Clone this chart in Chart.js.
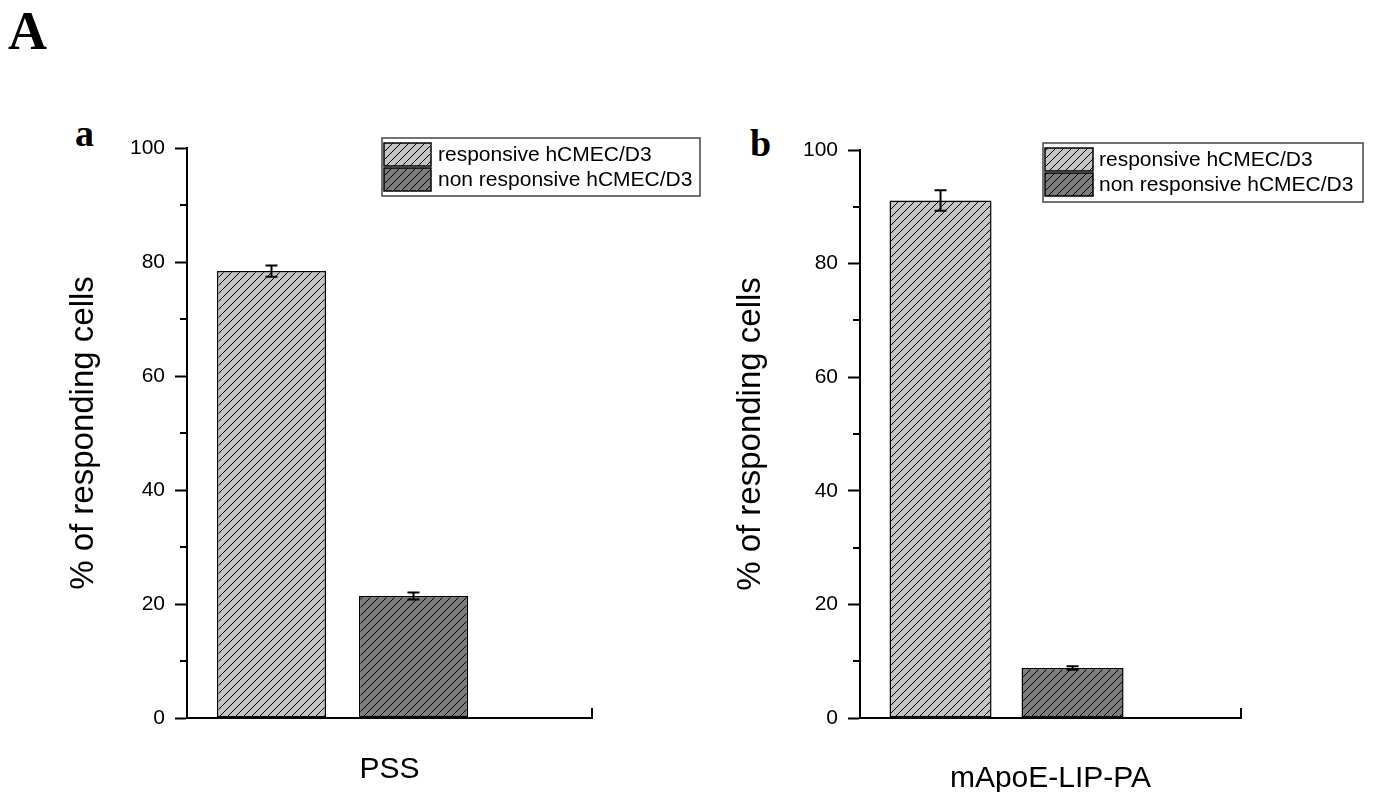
<!DOCTYPE html>
<html>
<head>
<meta charset="utf-8">
<script src="https://cdn.jsdelivr.net/npm/chart.js@4.4.1/dist/chart.umd.min.js"></script>
<style>
  html, body { margin: 0; padding: 0; background: #fff; width: 1376px; height: 792px; overflow: hidden; }
  .panel { position: absolute; top: 0; }
  #panel-a { left: 0; }
  #panel-b { left: 700px; }
  .tag { position: absolute; font-family: "Liberation Serif", "Times New Roman", serif; font-weight: bold; color: #000; line-height: 1; }
</style>
</head>
<body>
<div class="tag" style="left:8px; top:4px; font-size:54px;">A</div>
<div class="tag" style="left:75px; top:114px; font-size:38px;">a</div>
<div class="tag" style="left:750px; top:124px; font-size:38px;">b</div>
<div class="panel" id="panel-a"><canvas id="chart-a" width="710" height="800"></canvas></div>
<div class="panel" id="panel-b"><canvas id="chart-b" width="676" height="800"></canvas></div>

<script>
// ---------------- DATA ----------------
const seriesNames = ["responsive hCMEC/D3", "non responsive hCMEC/D3"];
const groupLabels = ["PSS", "mApoE-LIP-PA"];
const pssMeans = [78.4, 21.4];
const pssErrors = [1.0, 0.6];
const apoMeans = [91.1, 8.8];
const apoErrors = [1.8, 0.3];
const yTickValues = [0, 20, 40, 60, 80, 100];
const yMinorValues = [10, 30, 50, 70, 90];
const yTitle = "% of responding cells";

// ---------------- STYLE ----------------
const seriesFill = ["#c4c4c4", "#7c7c7c"];
const sansFont = "'Liberation Sans', Arial, sans-serif";
Chart.defaults.font.family = sansFont;
Chart.defaults.color = "#000";

// diagonal hatch like the Origin "/" fill
function hatch(fill) {
  const size = 8;
  const c = document.createElement("canvas");
  c.width = size;
  c.height = size;
  const g = c.getContext("2d");
  g.fillStyle = fill;
  g.fillRect(0, 0, size, size);
  g.strokeStyle = "#000";
  g.lineWidth = 1;
  g.beginPath();
  g.moveTo(0, size); g.lineTo(size, 0);
  g.moveTo(-size / 2, size / 2); g.lineTo(size / 2, -size / 2);
  g.moveTo(size / 2, size * 1.5); g.lineTo(size * 1.5, size / 2);
  g.stroke();
  return g.createPattern(c, "repeat");
}
const patterns = seriesFill.map(hatch);

// ---------------- PLUGINS ----------------
const errorBars = {
  id: "errorBars",
  afterDatasetsDraw(chart) {
    const ctx = chart.ctx;
    const y = chart.scales.y;
    ctx.save();
    ctx.strokeStyle = "#000";
    ctx.lineWidth = 2;
    chart.data.datasets.forEach((ds, i) => {
      const meta = chart.getDatasetMeta(i);
      meta.data.forEach((bar, j) => {
        const v = ds.data[j].y;
        const e = ds.errorBars[j];
        const top = y.getPixelForValue(v + e);
        const bot = y.getPixelForValue(v - e);
        ctx.beginPath();
        ctx.moveTo(bar.x, top); ctx.lineTo(bar.x, bot);
        ctx.moveTo(bar.x - 6, top); ctx.lineTo(bar.x + 6, top);
        ctx.moveTo(bar.x - 6, bot); ctx.lineTo(bar.x + 6, bot);
        ctx.stroke();
      });
    });
    ctx.restore();
  },
};

// minor y ticks + the small end tick on the x axis
const axisExtras = {
  id: "axisExtras",
  afterDraw(chart) {
    const ctx = chart.ctx;
    const y = chart.scales.y;
    const area = chart.chartArea;
    ctx.save();
    ctx.strokeStyle = "#000";
    ctx.lineWidth = 2;
    ctx.beginPath();
    yMinorValues.forEach((v) => {
      const py = Math.round(y.getPixelForValue(v));
      ctx.moveTo(area.left - 7, py);
      ctx.lineTo(area.left, py);
    });
    ctx.moveTo(area.right, area.bottom + 1);
    ctx.lineTo(area.right, area.bottom - 10);
    ctx.stroke();
    ctx.restore();
  },
};

const boxLegend = {
  id: "boxLegend",
  afterDraw(chart, args, opts) {
    const ctx = chart.ctx;
    ctx.save();
    ctx.fillStyle = "#fff";
    ctx.fillRect(opts.x, opts.y, opts.w, opts.h);
    ctx.strokeStyle = "#444";
    ctx.lineWidth = 1.5;
    ctx.strokeRect(opts.x, opts.y, opts.w, opts.h);
    chart.data.datasets.forEach((ds, i) => {
      const top = opts.rowTop + i * opts.rowPitch;
      ctx.fillStyle = ds.backgroundColor;
      ctx.fillRect(opts.swatchX, top, opts.swatchW, opts.swatchH);
      ctx.strokeStyle = "#000";
      ctx.lineWidth = 1.5;
      ctx.strokeRect(opts.swatchX, top, opts.swatchW, opts.swatchH);
      ctx.fillStyle = "#000";
      ctx.font = "21px " + sansFont;
      ctx.textBaseline = "middle";
      ctx.textAlign = "left";
      ctx.fillText(ds.label, opts.textX, top + opts.swatchH / 2 + 1);
    });
    ctx.restore();
  },
};

// ---------------- CHARTS ----------------
function makePanel(canvasId, means, errors, groupLabel, look) {
  const ctx = document.getElementById(canvasId).getContext("2d");
  return new Chart(ctx, {
    type: "bar",
    data: {
      datasets: seriesNames.map((name, i) => ({
        label: name,
        data: [{ x: i + 1, y: means[i] }],
        errorBars: [errors[i]],
        backgroundColor: patterns[i],
        borderColor: "#000",
        borderWidth: 1.5,
        borderSkipped: false,
        barPercentage: look.barPct,
        categoryPercentage: 1,
        grouped: false,
      })),
    },
    options: {
      responsive: false,
      animation: false,
      layout: { padding: { top: look.padTop, right: look.padRight, bottom: 0, left: 0 } },
      plugins: {
        legend: { display: false },
        tooltip: { enabled: false },
        boxLegend: look.legend,
      },
      scales: {
        x: {
          type: "linear",
          offset: false,
          min: look.xMin,
          max: look.xMax,
          afterBuildTicks: (s) => { s.ticks = [{ value: s.min }, { value: s.max }]; },
          afterFit: (s) => { s.height = 82; },
          ticks: { display: false },
          grid: { display: false, offset: false },
          border: { display: true, color: "#000", width: 2 },
          title: {
            display: true,
            text: groupLabel,
            font: { size: 30 },
            padding: { top: 0, bottom: look.xTitlePad },
          },
        },
        y: {
          min: 0,
          max: 100,
          afterBuildTicks: (s) => { s.ticks = yTickValues.map((v) => ({ value: v })); },
          afterFit: (s) => { s.width = look.areaLeft; },
          ticks: { font: { size: 21 }, padding: 10, color: "#000" },
          grid: {
            drawOnChartArea: false,
            drawTicks: true,
            tickLength: 12,
            tickWidth: 2,
            tickColor: "#000",
          },
          border: { display: true, color: "#000", width: 2 },
          title: {
            display: true,
            text: yTitle,
            font: { size: 33 },
            padding: { top: look.yTitlePad, bottom: 0 },
          },
        },
      },
    },
    plugins: [errorBars, axisExtras, boxLegend],
  });
}

makePanel("chart-a", pssMeans, pssErrors, groupLabels[0], {
  areaLeft: 187,
  padTop: 148,
  padRight: 118,
  xMin: 0.405,
  xMax: 3.257,
  barPct: 0.768,
  yTitlePad: 64,
  xTitlePad: 12,
  legend: { x: 382, y: 138, w: 318, h: 58, swatchX: 384, swatchW: 47, swatchH: 23, rowTop: 143, rowPitch: 25, textX: 438 },
});

makePanel("chart-b", apoMeans, apoErrors, groupLabels[1], {
  areaLeft: 160,
  padTop: 150,
  padRight: 135,
  xMin: 0.39,
  xMax: 3.276,
  barPct: 0.773,
  yTitlePad: 31,
  xTitlePad: 3,
  legend: { x: 343, y: 143, w: 320, h: 59, swatchX: 345, swatchW: 48, swatchH: 23, rowTop: 148, rowPitch: 25, textX: 399 },
});
</script>
</body>
</html>
